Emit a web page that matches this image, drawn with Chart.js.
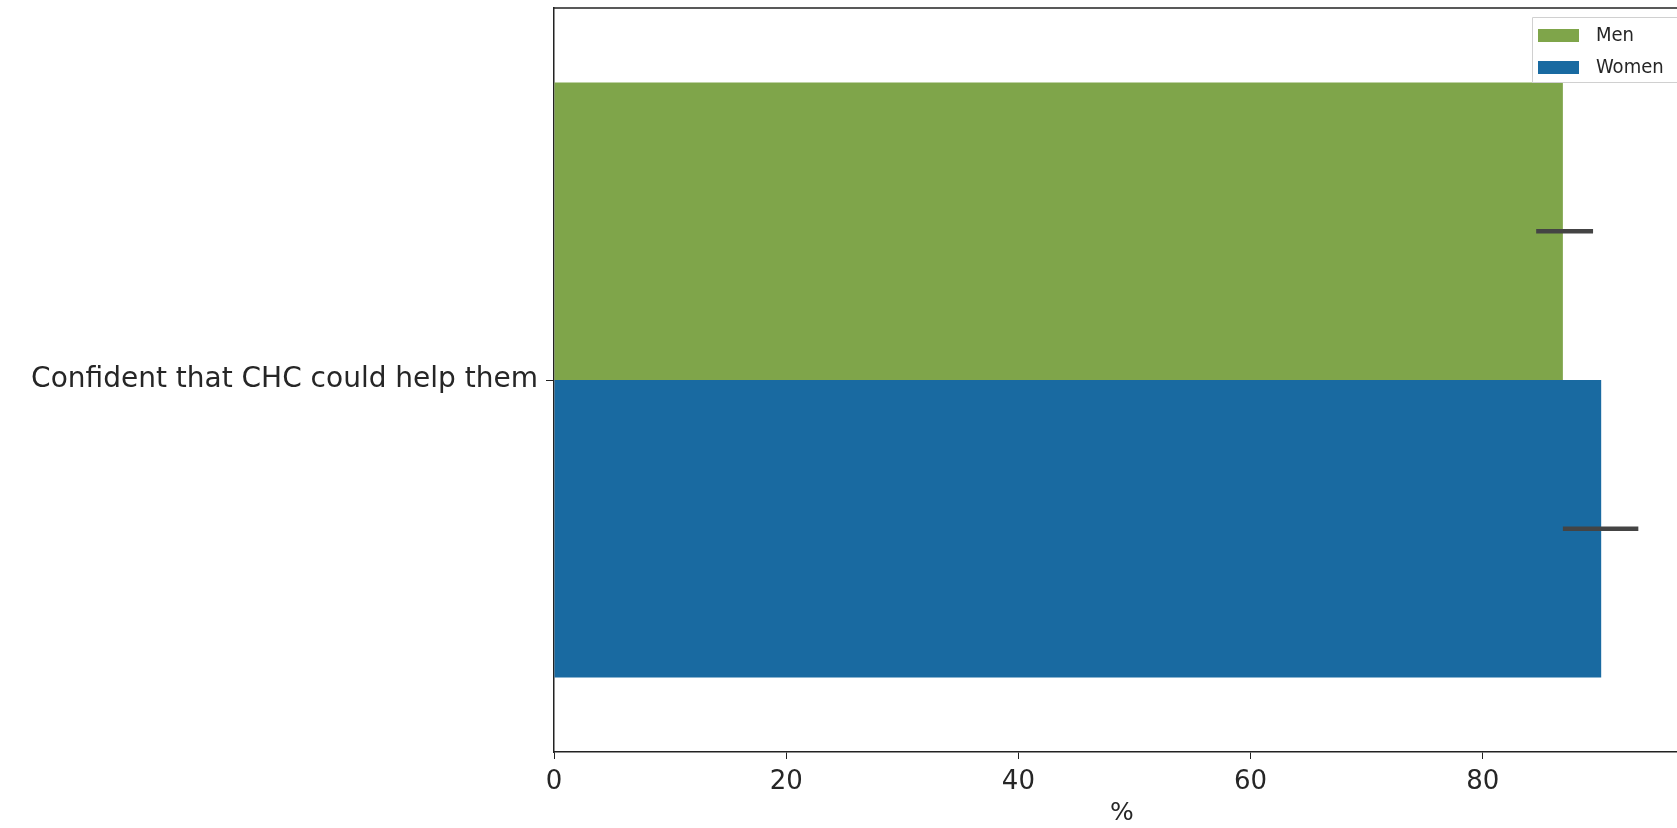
<!DOCTYPE html>
<html>
<head>
<meta charset="utf-8">
<script src="https://cdn.jsdelivr.net/npm/chart.js@4.4.0/dist/chart.umd.min.js"></script>
<style>
  html, body { margin: 0; padding: 0; background: #fff; overflow: hidden; }
  #clip { width: 1677px; height: 828px; overflow: hidden; }
  #wrap { width: 1690px; height: 828px; position: relative; }
</style>
</head>
<body>
<div id="clip"><div id="wrap"><canvas id="chart"></canvas></div></div>
<script>
// chart data
const categories = ["Confident that CHC could help them"];
const seriesNames = ["Men", "Women"];
const menValues = [86.9];
const womenValues = [90.2];
const menErrLow = [84.6];
const menErrHigh = [89.5];
const womenErrLow = [86.9];
const womenErrHigh = [93.4];
const xTicks = [0, 20, 40, 60, 80];

const green = "rgb(127,165,74)";
const blue = "rgb(25,106,161)";
const ink = "#262626";

// error bars drawn through the scales
const errorBars = {
  id: "errorBars",
  afterDatasetsDraw(chart) {
    const ctx = chart.ctx;
    const x = chart.scales.x;
    const lows = [menErrLow, womenErrLow];
    const highs = [menErrHigh, womenErrHigh];
    ctx.save();
    ctx.strokeStyle = "#444";
    ctx.lineWidth = 4.5;
    chart.data.datasets.forEach((ds, di) => {
      const meta = chart.getDatasetMeta(di);
      meta.data.forEach((bar, i) => {
        ctx.beginPath();
        ctx.moveTo(x.getPixelForValue(lows[di][i]), bar.y);
        ctx.lineTo(x.getPixelForValue(highs[di][i]), bar.y);
        ctx.stroke();
      });
    });
    ctx.restore();
  }
};

// top frame line + legend box in upper right
const frameAndLegend = {
  id: "frameAndLegend",
  afterDraw(chart) {
    const ctx = chart.ctx;
    const a = chart.chartArea;
    ctx.save();
    ctx.strokeStyle = "#222";
    ctx.lineWidth = 1.5;
    ctx.beginPath();
    ctx.moveTo(a.left, a.top);
    ctx.lineTo(a.right, a.top);
    ctx.stroke();

    // legend
    ctx.fillStyle = "rgba(255,255,255,0.85)";
    ctx.strokeStyle = "#d0d0d0";
    ctx.lineWidth = 1;
    ctx.beginPath();
    ctx.rect(1532.5, 17.5, 160, 65);
    ctx.fill();
    ctx.stroke();
    ctx.font = "20px 'DejaVu Sans Condensed', 'DejaVu Sans', sans-serif";
    ctx.textBaseline = "middle";
    chart.data.datasets.forEach((ds, i) => {
      const yy = 35 + i * 32;
      ctx.fillStyle = ds.backgroundColor;
      ctx.fillRect(1538, yy - 6, 41, 13);
      ctx.fillStyle = ink;
      ctx.fillText(ds.label, 1596, yy + 1);
    });
    ctx.restore();
  }
};

new Chart(document.getElementById("chart"), {
  type: "bar",
  data: {
    labels: categories,
    datasets: [
      { label: seriesNames[0], data: menValues, backgroundColor: green },
      { label: seriesNames[1], data: womenValues, backgroundColor: blue }
    ]
  },
  options: {
    indexAxis: "y",
    responsive: true,
    maintainAspectRatio: false,
    animation: false,
    layout: { padding: { top: 8, right: 0, left: 0, bottom: 0 } },
    datasets: { bar: { categoryPercentage: 0.8, barPercentage: 1.0 } },
    plugins: { legend: { display: false }, tooltip: { enabled: false } },
    scales: {
      x: {
        min: 0,
        max: 97.85,
        afterBuildTicks(scale) { scale.ticks = xTicks.map(v => ({ value: v })); },
        afterFit(scale) { scale.height = 76; scale.paddingLeft = 0; scale.paddingRight = 0; },
        grid: { drawOnChartArea: false, drawTicks: true, tickLength: 7, color: "#222" },
        border: { display: true, color: "#222", width: 1.5 },
        ticks: { color: ink, padding: 8, font: { family: "'DejaVu Sans', sans-serif", size: 26 } },
        title: { display: true, text: "%", color: ink, padding: { top: 0, bottom: 0 }, font: { family: "'DejaVu Sans', sans-serif", size: 25 } }
      },
      y: {
        afterFit(scale) { scale.width = 554; scale.paddingTop = 0; scale.paddingBottom = 0; },
        grid: { drawOnChartArea: false, drawTicks: true, offset: false, tickLength: 8, color: "#222" },
        border: { display: true, color: "#222", width: 1.5 },
        ticks: { color: ink, padding: 8, font: { family: "'DejaVu Sans', sans-serif", size: 28 } }
      }
    }
  },
  plugins: [errorBars, frameAndLegend]
});
</script>
</body>
</html>
